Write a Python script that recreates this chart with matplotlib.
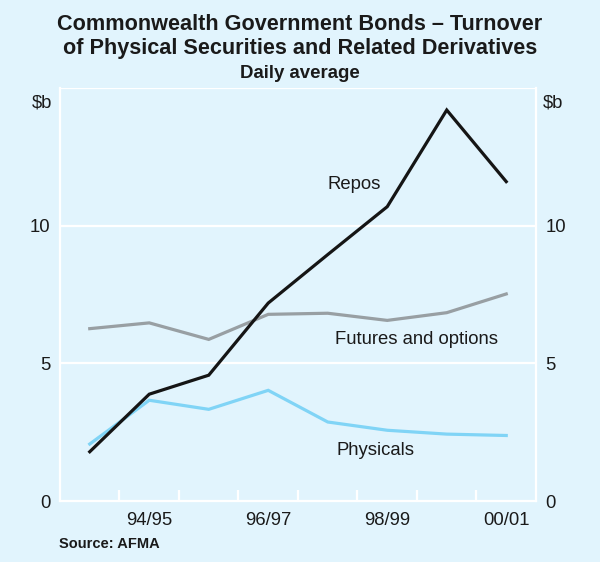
import matplotlib
matplotlib.use("Agg")
import matplotlib.pyplot as plt

plt.rcParams['font.family'] = ['Liberation Sans', 'DejaVu Sans']

years = ["93/94", "94/95", "95/96", "96/97", "97/98", "98/99", "99/00", "00/01"]
repos = [1.79, 3.88, 4.57, 7.19, 8.95, 10.69, 14.2, 11.6]
futures = [6.26, 6.47, 5.87, 6.78, 6.82, 6.56, 6.84, 7.52]
physicals = [2.07, 3.66, 3.33, 4.02, 2.87, 2.57, 2.43, 2.38]
shown_labels = ["94/95", "96/97", "98/99", "00/01"]
yticks = [0, 5, 10]

bg = "#E1F4FD"
fs = 13.3
fig = plt.figure(figsize=(6.0, 5.62), dpi=100, facecolor=bg)
ax = fig.add_axes([0.1, 0.1085, 0.7933, 0.7349])
ax.set_facecolor(bg)

x = list(range(len(years)))
ax.plot(x, futures, color="#989fa3", lw=2.3, solid_joinstyle="miter", zorder=3)
ax.plot(x, physicals, color="#80D4F6", lw=2.3, solid_joinstyle="miter", zorder=3)
ax.plot(x, repos, color="#151515", lw=2.3, solid_joinstyle="miter", zorder=4)

ax.set_xlim(-0.5, len(years) - 0.5)
ax.set_ylim(0, 15)

for y in [5, 10, 15]:
    ax.axhline(y, color="white", lw=1.6, zorder=1)
for s in ax.spines.values():
    s.set_color("white")
    s.set_linewidth(1.6)
ax.spines['top'].set_visible(False)

# x ticks at category boundaries, labels at selected categories
ax.set_xticks([i + 0.5 for i in range(len(years) - 1)])
ax.set_xticklabels([])
ax.tick_params(axis='x', which='major', direction='in', length=8, width=1.6, color='white')
lab_pos = [years.index(l) for l in shown_labels]
ax.set_xticks(lab_pos, minor=True)
ax.set_xticklabels(shown_labels, minor=True, fontsize=fs, color="#1a1a1a")
ax.tick_params(axis='x', which='minor', length=0, pad=8)

ax.set_yticks(yticks)
ax.set_yticklabels([str(v) for v in yticks], fontsize=fs, color="#1a1a1a")
ax.tick_params(axis='y', which='major', length=0, pad=7, labelleft=True, labelright=True)

ax.text(-0.017, 0.963, "$b", transform=ax.transAxes, ha="right", va="center", fontsize=fs, color="#1a1a1a")
ax.text(1.015, 0.963, "$b", transform=ax.transAxes, ha="left", va="center", fontsize=fs, color="#1a1a1a")

ax.text(4.45, 11.5, "Repos", ha="center", va="center", fontsize=fs, color="#1a1a1a")
ax.text(5.5, 5.85, "Futures and options", ha="center", va="center", fontsize=fs, color="#1a1a1a")
ax.text(4.8, 1.85, "Physicals", ha="center", va="center", fontsize=fs, color="#1a1a1a")

fig.text(0.5, 0.957, "Commonwealth Government Bonds \u2013 Turnover", ha="center", va="center",
         fontsize=15.6, fontweight="bold", color="#1a1a1a")
fig.text(0.5, 0.913, "of Physical Securities and Related Derivatives", ha="center", va="center",
         fontsize=15.6, fontweight="bold", color="#1a1a1a")
fig.text(0.5, 0.870, "Daily average", ha="center", va="center",
         fontsize=13.4, fontweight="bold", color="#1a1a1a")
fig.text(0.098, 0.032, "Source: AFMA", ha="left", va="center", fontsize=10.5,
         fontweight="bold", color="#1a1a1a")

fig.savefig("out.png", dpi=100, facecolor=bg)
